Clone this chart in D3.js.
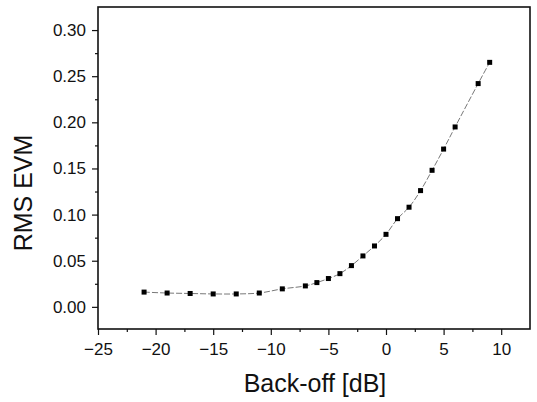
<!DOCTYPE html>
<html>
<head>
<meta charset="utf-8">
<script src="https://cdn.jsdelivr.net/npm/d3@7"></script>
<style>
  body { margin: 0; background: #fff; }
  text { font-family: "Liberation Sans", Arial, sans-serif; fill: #111; }
</style>
</head>
<body>
<div id="chart"></div>
<script>
// data
const backOff = [-21, -19, -17, -15, -13, -11, -9, -7, -6, -5, -4, -3, -2, -1, 0, 1, 2, 3, 4, 5, 6, 8, 9]
const rmsEvm = [0.016, 0.015, 0.0145, 0.014, 0.014, 0.015, 0.0195, 0.0227, 0.0263, 0.0307, 0.036, 0.0447,
                0.0552, 0.066, 0.0786, 0.0956, 0.108, 0.126, 0.148, 0.171, 0.195, 0.242, 0.265]
const xTicks = [-25, -20, -15, -10, -5, 0, 5, 10]
const yTicks = [0, 0.05, 0.10, 0.15, 0.20, 0.25, 0.30]

const margin = {top: 7, right: 7, bottom: 73, left: 98}
const width = 537 - margin.left - margin.right
const height = 402 - margin.top - margin.bottom

const svg = d3.select("#chart").append("svg")
        .attr("width", 537)
        .attr("height", 402)
    .append("g")
        .attr("transform", "translate(" + margin.left + "," + margin.top + ")")

const xScale = d3.scaleLinear().domain([-25, 12.5]).range([0, width])
const yScale = d3.scaleLinear().domain([-0.024, 0.325]).range([height, 0])

// minor ticks
const xMinor = d3.axisBottom(xScale).tickValues(d3.range(-22.5, 12.5, 5)).tickSize(3).tickFormat("")
const yMinor = d3.axisLeft(yScale).tickValues(d3.range(0.025, 0.325, 0.05)).tickSize(3).tickFormat("")

const xAxis = d3.axisBottom(xScale).tickValues(xTicks).tickSize(6).tickPadding(8)
const yAxis = d3.axisLeft(yScale).tickValues(yTicks).tickSize(6).tickPadding(6)
    .tickFormat(d3.format(".2f"))

svg.append("g").attr("transform", `translate(0, ${height})`).call(xMinor)
svg.append("g").call(yMinor)
const xGroup = svg.append("g").attr("class", "x-axis")
    .attr("transform", `translate(0, ${height})`).call(xAxis)
const yGroup = svg.append("g").attr("class", "y-axis").call(yAxis)

svg.selectAll(".domain").remove()
svg.selectAll(".tick line").attr("stroke", "#111").attr("stroke-width", 1.2)
xGroup.selectAll("text").attr("font-size", 17).attr("fill", "#333")
yGroup.selectAll("text").attr("font-size", 17).attr("fill", "#333")

// frame
svg.append("rect")
    .attr("width", width).attr("height", height)
    .attr("fill", "none").attr("stroke", "#111").attr("stroke-width", 1.6)

// fit line
const line = d3.line()
    .curve(d3.curveCatmullRom)
    .x((d, i) => xScale(backOff[i]))
    .y(d => yScale(d))

svg.append("path")
    .datum(rmsEvm)
    .attr("fill", "none")
    .attr("stroke", "#555")
    .attr("stroke-width", 0.8)
    .attr("stroke-dasharray", "6,2")
    .attr("d", line)

svg.selectAll(".pt")
    .data(rmsEvm)
    .join("rect")
        .attr("class", "pt")
        .attr("x", (d, i) => xScale(backOff[i]) - 2.5)
        .attr("y", d => yScale(d) - 2.5)
        .attr("width", 5)
        .attr("height", 5)
        .attr("fill", "#000")

// axis labels
svg.append("text")
    .attr("x", width / 2 + 1)
    .attr("y", height + 63)
    .attr("text-anchor", "middle")
    .attr("font-size", 25)
    .text("Back-off [dB]")

svg.append("text")
    .attr("transform", `translate(${-66}, ${186}) rotate(-90)`)
    .attr("text-anchor", "middle")
    .attr("font-size", 25)
    .text("RMS EVM")
</script>
</body>
</html>
